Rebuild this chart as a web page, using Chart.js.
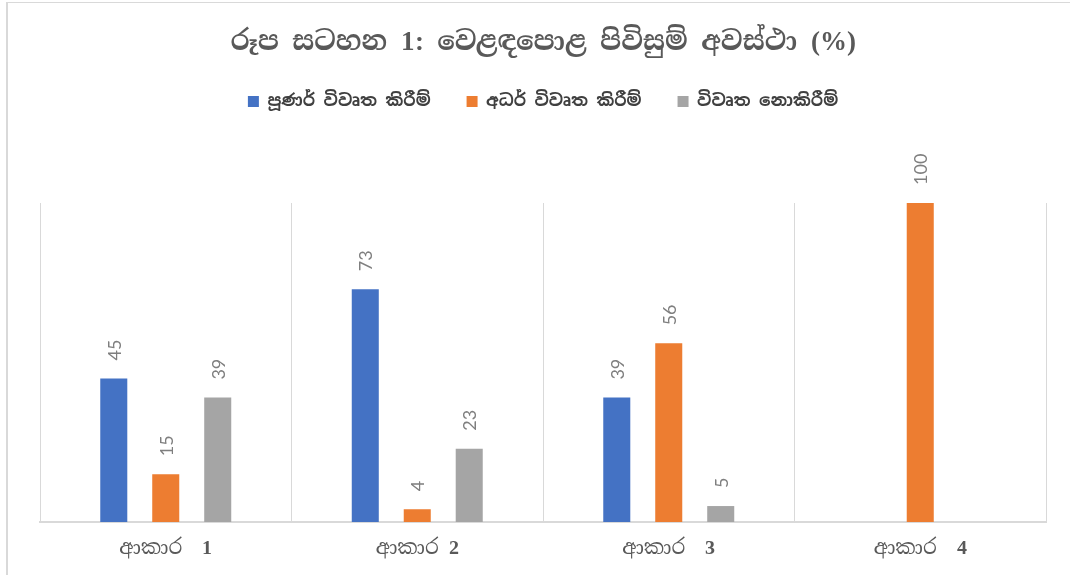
<!DOCTYPE html>
<html>
<head>
<meta charset="utf-8">
<script src="https://cdn.jsdelivr.net/npm/chart.js@4.4.1/dist/chart.umd.min.js"></script>
<style>
  @font-face { font-family: 'MixSerif'; src: local('Liberation Serif'), local('LiberationSerif');
               font-weight: normal; unicode-range: U+0021-007E; }
  @font-face { font-family: 'MixSerif'; src: local('Liberation Serif Bold'), local('LiberationSerif-Bold');
               font-weight: bold; unicode-range: U+0021-007E; }
  @font-face { font-family: 'MixSerifB'; src: local('Liberation Serif Bold'), local('LiberationSerif-Bold');
               font-weight: normal; unicode-range: U+0021-007E; }
  html, body { margin: 0; padding: 0; background: #ffffff; }
  #frame { position: absolute; left: 6px; top: 2px; width: 1100px; height: 600px;
           border-top: 1px solid #d9d9d9; border-left: 2px solid #d9d9d9; }
  #wrap { position: absolute; left: 0; top: 0; width: 1070px; height: 575px; }
</style>
</head>
<body>
<div id="frame"></div>
<div id="wrap"><canvas id="c" width="1070" height="575"></canvas></div>
<script>
const categories = ["ආකාර  1", "ආකාර 2", "ආකාර  3", "ආකාර  4"];
const seriesNames = ["පූණර් විවෘත කිරීම්", "අධර් විවෘත කිරීම්", "විවෘත නොකිරීම්"];
const fullOpen = [45, 73, 39, null];
const partialOpen = [15, 4, 56, 100];
const notOpen = [39, 23, 5, null];
const titleText = "රූප සටහන 1: වෙළඳපොළ පිවිසුම් අවස්ථා (%)";
const yMin = 0;
const yMax = 100;

const sinhalaSerif = "MixSerif, 'Iskoola Pota', 'Noto Serif Sinhala', 'Noto Sans Sinhala', serif";
const sinhalaSerifB = "MixSerifB, 'Iskoola Pota', 'Noto Serif Sinhala', 'Noto Sans Sinhala', serif";
const sinhalaSans = "'Nirmala UI', 'Noto Sans Sinhala', 'Noto Sans', 'Liberation Sans', sans-serif";

const barLabels = {
  id: 'barLabels',
  afterDatasetsDraw(chart) {
    const ctx = chart.ctx;
    ctx.save();
    ctx.font = "18px Lato, 'Noto Sans', sans-serif";
    ctx.fillStyle = '#7f7f7f';
    ctx.textAlign = 'left';
    ctx.textBaseline = 'middle';
    chart.data.datasets.forEach((ds, di) => {
      const meta = chart.getDatasetMeta(di);
      meta.data.forEach((el, i) => {
        const v = ds.data[i];
        if (v === null || v === undefined) return;
        ctx.save();
        ctx.translate(el.x + 1, el.y - 18);
        ctx.rotate(-Math.PI / 2);
        ctx.fillText(String(v), 0, 0);
        ctx.restore();
      });
    });
    ctx.restore();
  }
};

function build() {
  new Chart(document.getElementById('c'), {
    type: 'bar',
    data: {
      labels: categories,
      datasets: [
        { label: seriesNames[0], data: fullOpen, backgroundColor: '#4472C4' },
        { label: seriesNames[1], data: partialOpen, backgroundColor: '#ED7D31' },
        { label: seriesNames[2], data: notOpen, backgroundColor: '#A5A5A5' }
      ]
    },
    options: {
      responsive: false,
      animation: false,
      devicePixelRatio: 1,
      layout: { padding: { left: 40, right: 24, top: 0, bottom: 0 } },
      datasets: { bar: { barPercentage: 0.52, categoryPercentage: 0.62 } },
      scales: {
        x: {
          offset: true,
          grid: { display: true, offset: true, color: '#d9d9d9', lineWidth: 1, drawTicks: false },
          border: { display: true, color: '#d9d9d9', width: 2 },
          ticks: { color: '#595959', font: { family: sinhalaSerifB, size: 20, lineHeight: 0.95 }, padding: 17, maxRotation: 0 }
        },
        y: {
          display: false,
          min: yMin,
          max: yMax
        }
      },
      plugins: {
        title: {
          display: true,
          text: titleText,
          color: '#595959',
          font: { family: sinhalaSerif, size: 27, weight: 'bold', lineHeight: 1.0 },
          padding: { top: 29, bottom: 1 }
        },
        subtitle: {
          display: true,
          text: ' ',
          weight: 500,
          font: { size: 10 },
          padding: { top: 36, bottom: 35 }
        },
        legend: {
          display: true,
          position: 'top',
          labels: {
            color: '#404040',
            font: { family: sinhalaSans, size: 17, weight: 'bold' },
            boxWidth: 11,
            boxHeight: 11,
            padding: 36
          }
        },
        tooltip: { enabled: false }
      }
    },
    plugins: [barLabels]
  });
}

const loads = [
  document.fonts.load("bold 27px MixSerif", "1:(%)"),
  document.fonts.load("20px MixSerifB", "1234")
];
Promise.all(loads).then(build, build);
</script>
</body>
</html>
